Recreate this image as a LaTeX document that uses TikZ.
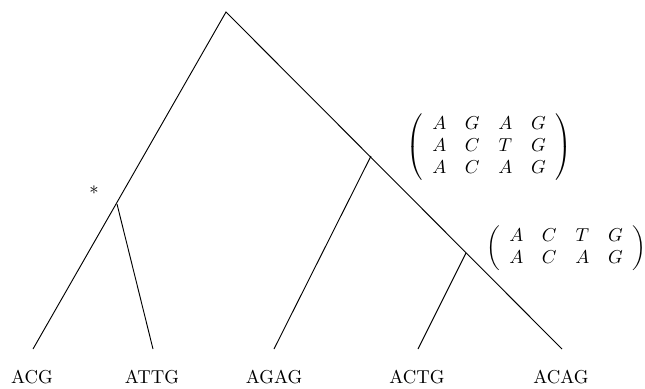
\documentclass[tikz,border=0pt]{standalone}
\begin{document}
\begin{tikzpicture}[x=0.535pt,y=-0.535pt,
  branch/.style={line width=0.5pt},
  leaflabel/.style={inner sep=0pt}]
\useasboundingbox (0,0) rectangle (645,388);
\coordinate (root) at (226,12);
\coordinate (star) at (117,204);
\coordinate (nAG) at (371,156);
\coordinate (nAC) at (466,253);
\coordinate (l1) at (33,349);
\coordinate (l2) at (153,349);
\coordinate (l3) at (274,349);
\coordinate (l4) at (418,349);
\coordinate (l5) at (562,349);
\draw[branch] (l1) -- (root) -- (l5);
\draw[branch] (star) -- (l2);
\draw[branch] (nAG) -- (l3);
\draw[branch] (nAC) -- (l4);
\node[leaflabel] (t1) at (32,377) {ACG};
\node[leaflabel] (t2) at (152,377) {ATTG};
\node[leaflabel] (t3) at (274,377) {AGAG};
\node[leaflabel] (t4) at (417,377) {ACTG};
\node[leaflabel] (t5) at (561,377) {ACAG};
\node (ast) at (94,190) {$*$};
\node (m1) at (489,147) {$\left(\begin{array}{cccc} A & G & A & G\\ A & C & T & G\\ A & C & A & G\end{array}\right)$};
\node (m2) at (566,248) {$\left(\begin{array}{cccc} A & C & T & G\\ A & C & A & G\end{array}\right)$};
\end{tikzpicture}
\end{document}
